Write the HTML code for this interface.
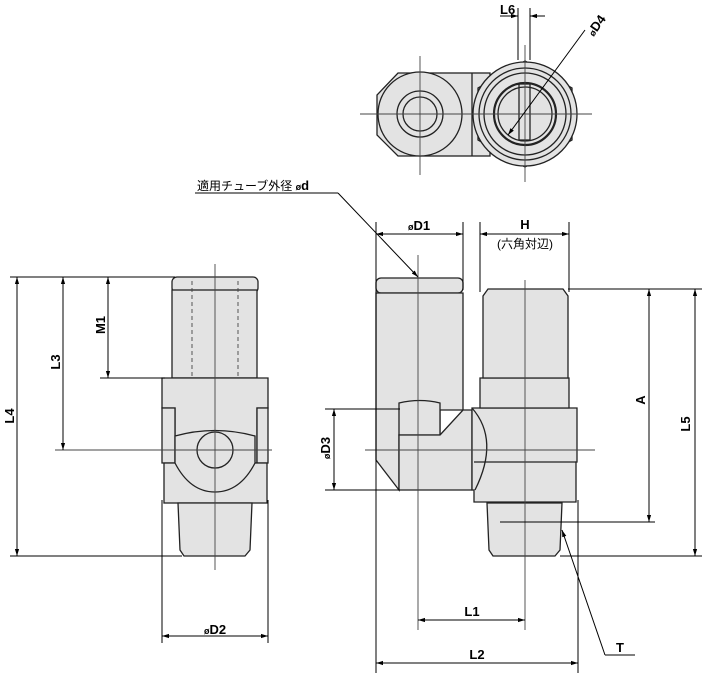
<!DOCTYPE html>
<html><head><meta charset="utf-8"><style>
html,body{margin:0;padding:0;background:#fff}
svg{display:block}
text{font-family:"Liberation Sans","Noto Sans CJK JP",sans-serif;fill:#000}
.b{font-weight:bold;font-size:13px}
</style></head><body>
<svg width="702" height="673" viewBox="0 0 702 673" xmlns="http://www.w3.org/2000/svg">
<defs>
<marker id="a" viewBox="0 0 10 10" refX="10" refY="5" markerWidth="7" markerHeight="7" orient="auto-start-reverse"><path d="M0,2 L10,5 L0,8 z" fill="#000"/></marker>
</defs>
<g stroke="#222" stroke-width="1.3" fill="#e3e3e3">
<!-- TOP VIEW -->
<rect x="420" y="73" width="70" height="83"/>
<line x1="472" y1="73" x2="472" y2="156"/>
<polygon points="398,73 420,73 420,156 398,156 377,135 377,95"/>
<circle cx="420" cy="114" r="42"/>
<circle cx="420" cy="114" r="23" fill="none"/>
<circle cx="420" cy="114" r="17" fill="none"/>
<polygon points="525,61 572,88 572,140 525,167 478,140 478,88"/>
<circle cx="525" cy="114" r="52"/>
<circle cx="525" cy="114" r="46" fill="none"/>
<circle cx="525" cy="114" r="41" fill="none"/>
<circle cx="525" cy="114" r="31" fill="none" stroke-width="2.2"/>
<circle cx="525" cy="114" r="27" fill="none"/>
<rect x="519" y="84" width="11" height="56" fill="none"/>

<!-- LEFT VIEW -->
<rect x="172" y="277" width="86" height="16" rx="5"/>
<rect x="172" y="290" width="85" height="88"/>
<path d="M162,378 H268 V408 H257 V463 H175 V408 H162 Z"/>
<path d="M162,408 H175 V463 H162 Z"/>
<path d="M257,408 H268 V463 H257 Z"/>
<rect x="164" y="463" width="103" height="40"/>
<path d="M175,436 Q215,425 255,436 V463 Q240,492 215,492 Q190,492 175,463 Z"/>
<circle cx="215" cy="450" r="18"/>
<path d="M178,503 H252 L250,550 L245,556 H184 L180,550 Z"/>

<!-- RIGHT VIEW -->
<rect x="376" y="278" width="87" height="15" rx="5"/>
<path d="M376,293 H463 V410 H440 V435 L399,435 V490 L376,460 Z"/>
<path d="M399,403 Q420,398 440,403 V435 H399 Z"/>
<path d="M440,435 L463,410 H472 V490 H399 V435 Z"/>
<path d="M472,408 H577 V462 H576 V502 H474 V490 H472 Z"/>
<path d="M472,408 Q500,440 475,490" fill="none"/>
<line x1="474" y1="462" x2="576" y2="462"/>
<path d="M480,378 H569 V408 H480 Z"/>
<path d="M488,289 H563 L568,296 V378 H483 V296 Z"/>
<path d="M487,503 H562 L560,550 L555,556 H493 L489,550 Z"/>
</g>

<g stroke="#444" stroke-width="0.9" fill="none">
<line x1="192" y1="281" x2="192" y2="378" stroke-dasharray="4,3"/>
<line x1="238" y1="281" x2="238" y2="378" stroke-dasharray="4,3"/>
<line x1="360" y1="114" x2="592" y2="114"/>
<line x1="420" y1="56" x2="420" y2="175"/>
<line x1="525" y1="45" x2="525" y2="182"/>
<line x1="215" y1="264" x2="215" y2="570"/>
<line x1="55" y1="450" x2="272" y2="450"/>
<line x1="418" y1="255" x2="418" y2="630"/>
<line x1="525" y1="280" x2="525" y2="630"/>
<line x1="365" y1="450" x2="595" y2="450"/>
</g>

<g stroke="#000" stroke-width="1" fill="none">
<line x1="518" y1="8" x2="518" y2="60"/>
<line x1="530" y1="8" x2="530" y2="60"/>
<line x1="500" y1="16" x2="518" y2="16" marker-end="url(#a)"/>
<line x1="545" y1="16" x2="530" y2="16" marker-end="url(#a)"/>
<line x1="585" y1="30" x2="508" y2="135" marker-end="url(#a)"/>
<line x1="10" y1="277" x2="175" y2="277"/>
<line x1="10" y1="556" x2="182" y2="556"/>
<line x1="17" y1="277" x2="17" y2="556" marker-start="url(#a)" marker-end="url(#a)"/>
<line x1="63" y1="277" x2="63" y2="450" marker-start="url(#a)" marker-end="url(#a)"/>
<line x1="100" y1="378" x2="165" y2="378"/>
<line x1="108" y1="277" x2="108" y2="378" marker-start="url(#a)" marker-end="url(#a)"/>
<line x1="162" y1="500" x2="162" y2="643"/>
<line x1="268" y1="500" x2="268" y2="643"/>
<line x1="162" y1="636" x2="268" y2="636" marker-start="url(#a)" marker-end="url(#a)"/>
<line x1="195" y1="193" x2="338" y2="193"/>
<line x1="338" y1="193" x2="418" y2="277" marker-end="url(#a)"/>
<line x1="376" y1="222" x2="376" y2="673"/>
<line x1="463" y1="222" x2="463" y2="290"/>
<line x1="376" y1="234" x2="463" y2="234" marker-start="url(#a)" marker-end="url(#a)"/>
<line x1="480" y1="222" x2="480" y2="292"/>
<line x1="569" y1="222" x2="569" y2="292"/>
<line x1="480" y1="234" x2="569" y2="234" marker-start="url(#a)" marker-end="url(#a)"/>
<line x1="568" y1="289" x2="702" y2="289"/>
<line x1="500" y1="522" x2="655" y2="522"/>
<line x1="560" y1="556" x2="702" y2="556"/>
<line x1="649" y1="289" x2="649" y2="522" marker-start="url(#a)" marker-end="url(#a)"/>
<line x1="695" y1="289" x2="695" y2="556" marker-start="url(#a)" marker-end="url(#a)"/>
<line x1="325" y1="409" x2="400" y2="409"/>
<line x1="325" y1="490" x2="400" y2="490"/>
<line x1="334" y1="409" x2="334" y2="490" marker-start="url(#a)" marker-end="url(#a)"/>
<line x1="418" y1="620" x2="525" y2="620" marker-start="url(#a)" marker-end="url(#a)"/>
<line x1="578" y1="500" x2="578" y2="673"/>
<line x1="376" y1="663" x2="578" y2="663" marker-start="url(#a)" marker-end="url(#a)"/>
<line x1="605" y1="655" x2="562" y2="530" marker-end="url(#a)"/>
<line x1="605" y1="655" x2="635" y2="655"/>
</g>

<text class="b" x="500" y="14">L6</text>
<text class="b" transform="translate(600,28) rotate(-55)" text-anchor="middle"><tspan font-size="9">ø</tspan>D4</text>
<text x="197" y="190" font-size="12">適用チューブ外径 <tspan font-weight="bold" font-size="9">ø</tspan><tspan font-weight="bold" font-size="13">d</tspan></text>
<text class="b" x="419" y="230" text-anchor="middle"><tspan font-size="9">ø</tspan>D1</text>
<text class="b" x="525" y="229" text-anchor="middle">H</text>
<text x="525" y="248" font-size="12" text-anchor="middle">(六角対辺)</text>
<text class="b" transform="translate(14,416) rotate(-90)" text-anchor="middle">L4</text>
<text class="b" transform="translate(60,362) rotate(-90)" text-anchor="middle">L3</text>
<text class="b" transform="translate(105,325) rotate(-90)" text-anchor="middle">M1</text>
<text class="b" x="215" y="634" text-anchor="middle"><tspan font-size="9">ø</tspan>D2</text>
<text class="b" transform="translate(330,448) rotate(-90)" text-anchor="middle"><tspan font-size="9">ø</tspan>D3</text>
<text class="b" transform="translate(645,400) rotate(-90)" text-anchor="middle">A</text>
<text class="b" transform="translate(690,424) rotate(-90)" text-anchor="middle">L5</text>
<text class="b" x="472" y="616" text-anchor="middle">L1</text>
<text class="b" x="477" y="659" text-anchor="middle">L2</text>
<text class="b" x="620" y="652" text-anchor="middle">T</text>
</svg>
</body></html>
